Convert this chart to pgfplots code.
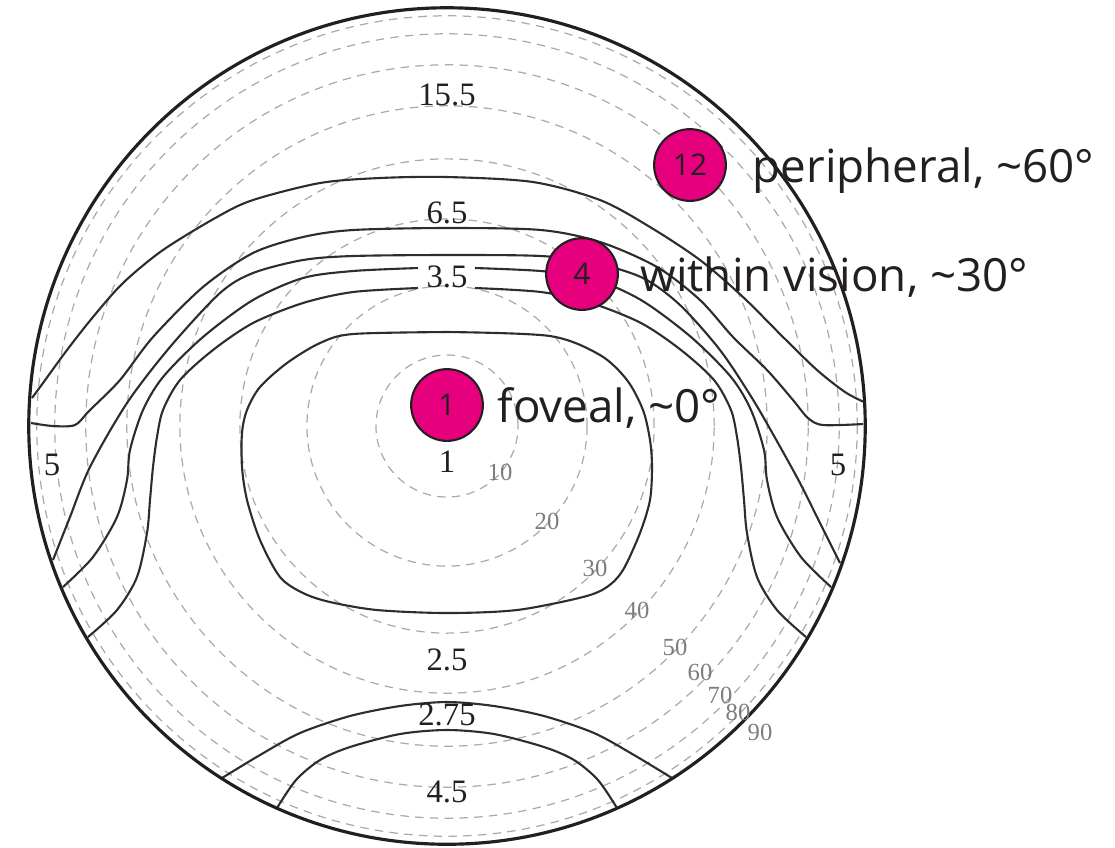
\documentclass[border=0pt]{standalone}
\usepackage{fontspec}
\setmainfont{Liberation Serif}
\newfontfamily\osans{Open Sans}
\usepackage{pgfplots}
\pgfplotsset{compat=1.18}
\definecolor{pinkc}{RGB}{230,0,126}
\definecolor{ink}{RGB}{35,31,32}
\definecolor{gridg}{RGB}{170,170,170}
\definecolor{labg}{RGB}{125,125,125}
\definecolor{cline}{RGB}{45,45,45}
\newcommand{\tld}{{\char"7E}}
\begin{document}
\begin{tikzpicture}
\begin{axis}[
  x=0.01cm, y=0.01cm, y dir=reverse,
  xmin=0, xmax=1115, ymin=0, ymax=847,
  hide axis, clip=false, scale only axis,
  cl/.style={cline, line width=0.6pt, smooth, no markers},
]
% eccentricity grid (dashed)
\draw[gridg, line width=0.35pt, dash pattern=on 2.4pt off 1.8pt] (axis cs:447,426) circle[radius=0.71cm];
\draw[gridg, line width=0.35pt, dash pattern=on 2.4pt off 1.8pt] (axis cs:447,426) circle[radius=1.40cm];
\draw[gridg, line width=0.35pt, dash pattern=on 2.4pt off 1.8pt] (axis cs:447,426) circle[radius=2.07cm];
\draw[gridg, line width=0.35pt, dash pattern=on 2.4pt off 1.8pt] (axis cs:447,426) circle[radius=2.67cm];
\draw[gridg, line width=0.35pt, dash pattern=on 2.4pt off 1.8pt] (axis cs:447,426) circle[radius=3.20cm];
\draw[gridg, line width=0.35pt, dash pattern=on 2.4pt off 1.8pt] (axis cs:447,426) circle[radius=3.61cm];
\draw[gridg, line width=0.35pt, dash pattern=on 2.4pt off 1.8pt] (axis cs:447,426) circle[radius=3.92cm];
\draw[gridg, line width=0.35pt, dash pattern=on 2.4pt off 1.8pt] (axis cs:447,426) circle[radius=4.10cm];

% contour C1
\addplot[cl] coordinates {(32,398) (43,383) (67,350) (93,317) (123,283) (163,250) (217,217) (253,200) (320,183) (380,178) (447,177) (533,182) (600,200) (650,227) (700,260) (743,297) (783,337) (817,370) (845,392) (864,402)};
% contour C2
\addplot[cl] coordinates {(31,423) (53,426) (75,425) (89,411) (120,380) (153,337) (203,287) (253,253) (303,237) (353,230) (447,228) (541,230) (600,242) (657,267) (700,300) (733,337) (767,370) (793,400) (808,418) (823,425) (863,424)};
% contour C3
\addplot[cl] coordinates {(53,560) (70,517) (90,467) (127,403) (170,347) (220,293) (253,273) (303,260) (353,256) (447,255) (541,256) (595,263) (643,278) (680,305) (720,350) (752,398) (778,443) (800,483) (820,523) (840,563)};
% contour C4 (gap for 3.5 label)
\addplot[cl] coordinates {(63,587) (93,557) (117,517) (127,480) (130,450) (143,410) (163,377) (203,337) (253,300) (303,278) (353,271) (418,268)};
\addplot[cl] coordinates {(475,268) (541,271) (591,278) (641,300) (691,337) (731,377) (751,410) (764,450) (767,480) (777,517) (801,557) (831,587)};
% contour C5
\addplot[cl] coordinates {(88,637) (117,610) (137,577) (147,533) (150,500) (153,467) (157,437) (163,410) (180,380) (213,350) (253,323) (303,303) (353,292) (418,288)};
\addplot[cl] coordinates {(475,288) (541,292) (591,303) (641,323) (681,350) (714,380) (731,410) (737,437) (741,467) (744,500) (747,533) (757,577) (777,610) (806,637)};
% contour C6 (closed, around fovea)
\addplot[cl] coordinates {(447,332) (550,336) (600,355) (627,380) (643,410) (650,440) (652,467) (650,500) (640,533) (623,570) (607,587) (583,597) (517,610) (447,613) (377,610) (330,602) (303,593) (280,577) (260,540) (247,500) (242,467) (242,433) (247,410) (260,387) (287,363) (320,343) (353,334) (447,332)};
% bottom arcs
\addplot[cl] coordinates {(222,778) (260,755) (300,733) (350,716) (400,706) (447,702) (494,706) (544,716) (594,733) (634,755) (672,778)};
\addplot[cl] coordinates {(277,808) (296,780) (320,760) (350,747) (400,734) (447,730) (494,734) (544,747) (574,760) (598,780) (617,808)};

% outer boundary
\draw[ink, line width=0.9pt] (axis cs:447,426) circle[radius=4.18cm];

% contour values
\node[font=\fontsize{9.3}{11}\selectfont, text=ink] at (axis cs:447,95) {15.5};
\node[font=\fontsize{9.3}{11}\selectfont, text=ink] at (axis cs:447,213) {6.5};
\node[font=\fontsize{9.3}{11}\selectfont, text=ink] at (axis cs:447,277) {3.5};
\node[font=\fontsize{9.3}{11}\selectfont, text=ink] at (axis cs:447,462) {1};
\node[font=\fontsize{9.3}{11}\selectfont, text=ink] at (axis cs:52,465) {5};
\node[font=\fontsize{9.3}{11}\selectfont, text=ink] at (axis cs:838,465) {5};
\node[font=\fontsize{9.3}{11}\selectfont, text=ink] at (axis cs:447,660) {2.5};
\node[font=\fontsize{9.3}{11}\selectfont, text=ink] at (axis cs:447,715) {2.75};
\node[font=\fontsize{9.3}{11}\selectfont, text=ink] at (axis cs:447,792) {4.5};

% eccentricity labels
\node[font=\fontsize{7}{8}\selectfont, text=labg] at (axis cs:500,472) {10};
\node[font=\fontsize{7}{8}\selectfont, text=labg] at (axis cs:547,521) {20};
\node[font=\fontsize{7}{8}\selectfont, text=labg] at (axis cs:595,568) {30};
\node[font=\fontsize{7}{8}\selectfont, text=labg] at (axis cs:637,610) {40};
\node[font=\fontsize{7}{8}\selectfont, text=labg] at (axis cs:675,647) {50};
\node[font=\fontsize{7}{8}\selectfont, text=labg] at (axis cs:700,672) {60};
\node[font=\fontsize{7}{8}\selectfont, text=labg] at (axis cs:720,695) {70};
\node[font=\fontsize{7}{8}\selectfont, text=labg] at (axis cs:738,712) {80};
\node[font=\fontsize{7}{8}\selectfont, text=labg] at (axis cs:760,732) {90};

% markers
\addplot[only marks, mark=*, mark size=10.2pt,
  mark options={fill=pinkc, draw=ink, line width=0.6pt},
  point meta=explicit symbolic, nodes near coords, nodes near coords align=center,
  every node near coord/.append style={anchor=center, font=\osans\fontsize{8.5}{10}\selectfont, text=ink}]
  coordinates {(447,405) [1] (582,274) [4] (690,165) [12]};

\node[anchor=base west, inner sep=0pt, font=\osans\fontsize{13}{15}\selectfont, text=ink] at (axis cs:497,422) {foveal, \tld0°};
\node[anchor=base west, inner sep=0pt, font=\osans\fontsize{13}{15}\selectfont, text=ink] at (axis cs:640,291) {within vision, \tld30°};
\node[anchor=base west, inner sep=0pt, font=\osans\fontsize{13}{15}\selectfont, text=ink] at (axis cs:752,182) {peripheral, \tld60°};
\end{axis}
\pgfresetboundingbox
\path (current axis.south west) rectangle (current axis.north east);
\end{tikzpicture}
\end{document}
